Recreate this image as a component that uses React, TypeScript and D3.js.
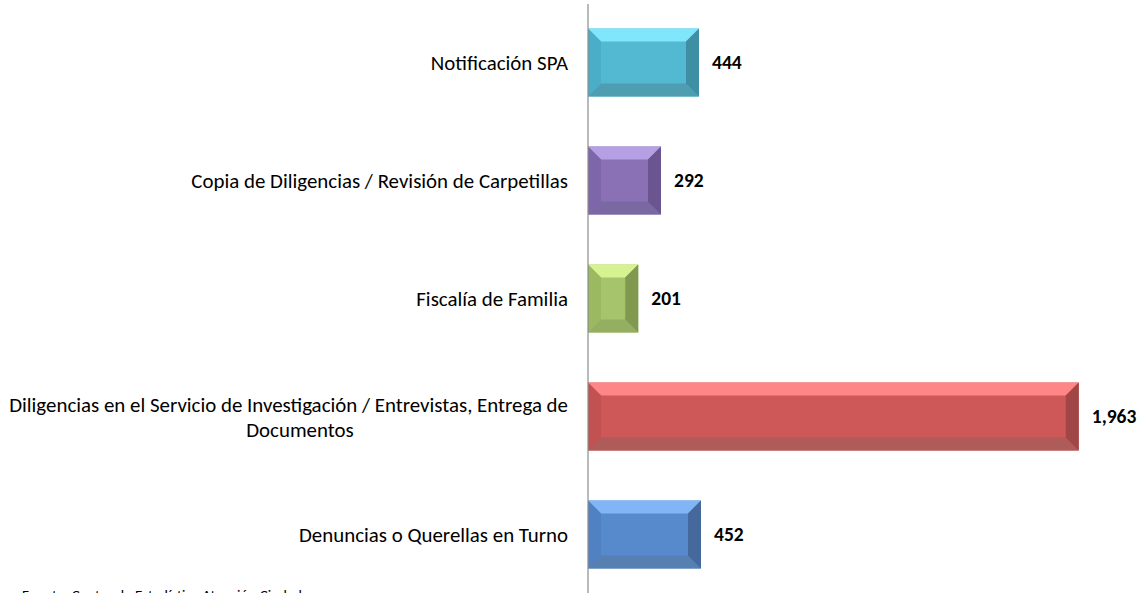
import React from "react";
import * as d3 from "d3";

const categories = [
  "Notificación SPA",
  "Copia de Diligencias / Revisión de Carpetillas",
  "Fiscalía de Familia",
  "Diligencias en el Servicio de Investigación / Entrevistas, Entrega de Documentos",
  "Denuncias o Querellas en Turno",
];
const values = [444, 292, 201, 1963, 452];
const labelLines = [
  ["Notificación SPA"],
  ["Copia de Diligencias / Revisión de Carpetillas"],
  ["Fiscalía de Familia"],
  ["Diligencias en el Servicio de Investigación / Entrevistas, Entrega de", "Documentos"],
  ["Denuncias o Querellas en Turno"],
];
const palettes = [
  { top: "#80E6FC", face: "#53B8D1", left: "#4BAEC8", right: "#3F8FA4", bottom: "#4E9DB1" },
  { top: "#B4A0E2", face: "#8A71B6", left: "#7E66AA", right: "#6A5591", bottom: "#7A68A2" },
  { top: "#D6F291", face: "#A6C46B", left: "#9BB960", right: "#80994F", bottom: "#94AE62" },
  { top: "#FF8686", face: "#CD5857", left: "#C25251", right: "#A04646", bottom: "#AE5B5A" },
  { top: "#81B5F6", face: "#578ACD", left: "#5081C2", right: "#45699D", bottom: "#5680B1" },
];
const footer = "Fuente: Centro de Estadística Atención Ciudadana";

const W = 1144;
const H = 593;
const fmt = d3.format(",");

export default function App() {
  const x = d3.scaleLinear().domain([0, 2000]).range([588, 1088]);
  const y = d3.scaleBand<string>().domain(categories).range([3.5, 593.5]).paddingInner(0.424).paddingOuter(0.212);
  const bh = y.bandwidth();
  const font = "Carlito, Calibri, Lato, 'Open Sans', sans-serif";
  const fs = 20.9;
  return (
    <svg width={W} height={H} style={{ position: "absolute", left: 0, top: 0, background: "#fff" }}>
      {categories.map((c, i) => {
        const x0 = x(0);
        const x1 = x(values[i]);
        const y0 = y(c)!;
        const y1 = y0 + bh;
        const b = Math.min(13, (x1 - x0) / 2);
        const p = palettes[i];
        const cy = y0 + bh / 2;
        const pts = (arr: number[][]) => arr.map((q) => q.join(",")).join(" ");
        return (
          <g key={c}>
            <rect x={x0} y={y0} width={x1 - x0} height={bh} fill={p.face} />
            <polygon points={pts([[x0, y0], [x1, y0], [x1 - b, y0 + b], [x0 + b, y0 + b]])} fill={p.top} />
            <polygon points={pts([[x0, y1], [x1, y1], [x1 - b, y1 - b], [x0 + b, y1 - b]])} fill={p.bottom} />
            <polygon points={pts([[x0, y0], [x0 + b, y0 + b], [x0 + b, y1 - b], [x0, y1]])} fill={p.left} />
            <polygon points={pts([[x1, y0], [x1 - b, y0 + b], [x1 - b, y1 - b], [x1, y1]])} fill={p.right} />
            <text x={x1 + 13} y={cy} dy="0.35em" fontFamily={font} fontWeight="bold" fontSize={19.5} fill="#000">
              {fmt(values[i])}
            </text>
            {labelLines[i].length === 1 ? (
              <text x={568} y={cy} dy="0.35em" textAnchor="end" fontFamily={font} fontSize={fs} fill="#000">
                {labelLines[i][0]}
              </text>
            ) : (
              <g>
                <text x={568} y={cy - 12} dy="0.35em" textAnchor="end" fontFamily={font} fontSize={fs} fill="#000">
                  {labelLines[i][0]}
                </text>
                <text x={300} y={cy + 13} dy="0.35em" textAnchor="middle" fontFamily={font} fontSize={fs} fill="#000">
                  {labelLines[i][1]}
                </text>
              </g>
            )}
          </g>
        );
      })}
      <line x1={x(0)} x2={x(0)} y1={4} y2={H} stroke="#8c8c8c" strokeWidth={1.2} />
      <text x={22} y={600} fontFamily={font} fontSize={15} fill="#000">
        {footer}
      </text>
    </svg>
  );
}
